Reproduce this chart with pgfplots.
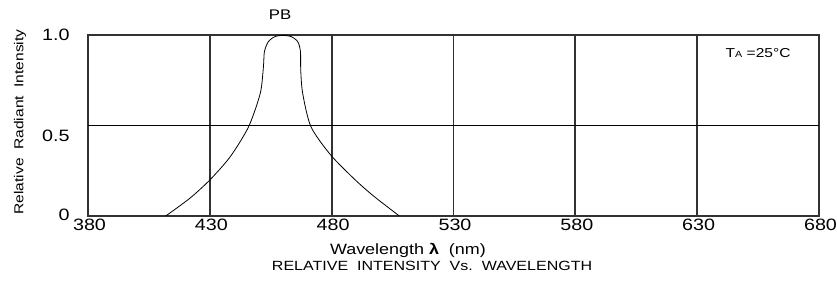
\documentclass[border=0pt]{standalone}
\usepackage{fontspec}
\setmainfont{Liberation Sans}[FakeStretch=1.2]
\usepackage{pgfplots}
\pgfplotsset{compat=1.18}
\definecolor{gridc}{RGB}{50,50,50}
\newcommand{\tfont}{\fontsize{16.5}{16.5}\selectfont}
\begin{document}
\begin{tikzpicture}
\begin{axis}[
  scale only axis,
  width=731bp, height=181bp,
  xmin=380, xmax=680, ymin=0, ymax=1,
  xtick={380,430,480,530,580,630,680},
  ytick={0,0.5,1},
  yticklabels={\raisebox{2bp}{0},\raisebox{-16bp}[0pt][0pt]{0.5},1.0},
  major tick length=0pt,
  xmajorgrids,
  x grid style={gridc, line width=1.8pt},
  axis line style={gridc, line width=1.8pt},
  xticklabel style={font=\tfont, xshift=1.5bp, yshift=0bp},
  yticklabel style={font=\tfont, xshift=-15bp},
  /pgf/number format/assume math mode=true,
  clip=false,
]
\pgfplotsextra{\draw[black, line width=1.1pt] (axis cs:380,0.5) -- (axis cs:680,0.5);}
\addplot[black, line width=0.8pt, smooth, tension=0.45] coordinates {
(411.9,0) (421.8,0.098) (430,0.199) (438.4,0.328) (445.9,0.493) (450.7,0.678)
(452,0.825) (452.4,0.908) (454.0,0.963) (456.7,0.991) (460,0.998) (463.4,0.991)
(466.1,0.963) (467.2,0.908) (467.3,0.807) (468.1,0.678) (471.5,0.493) (479.6,0.337)
(489.7,0.199) (497.5,0.107) (507.8,0)
};
\node[font=\fontsize{14}{14}\selectfont] at (axis cs:458.8,1.11) {PB};
\node[font=\fontsize{13}{13}\selectfont] at (axis cs:655,0.90) {T{\fontsize{9}{9}\selectfont A} =25\textdegree C};
\node[rotate=90, font=\fontsize{13}{13}\selectfont] at (axis cs:352.1,0.52) {Relative\ \ Radiant\ \ Intensity};
\node[font=\fontsize{15}{15}\selectfont] at (axis cs:511.3,-0.193) {Wavelength \textbf{λ}\ \ (nm)};
\node[font=\fontsize{13.4}{13.4}\selectfont] at (axis cs:521.2,-0.276) {RELATIVE\ \ INTENSITY\ \ Vs.\ \ WAVELENGTH};
\end{axis}
\pgfresetboundingbox
\path ([shift={(-88bp,-66bp)}]current axis.south west) rectangle ([shift={(18bp,35bp)}]current axis.north east);
\end{tikzpicture}
\end{document}
